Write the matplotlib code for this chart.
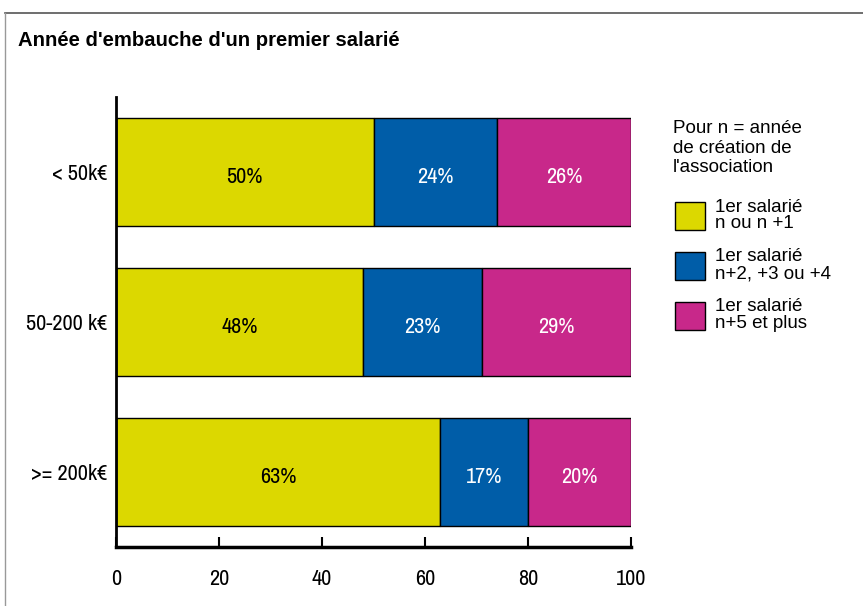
import matplotlib
matplotlib.use("Agg")
import matplotlib.pyplot as plt
from matplotlib.lines import Line2D
from matplotlib.patches import Patch

categories = ["< 50k€", "50-200 k€", ">= 200k€"]
series_labels = ["1er salarié\nn ou n +1", "1er salarié\nn+2, +3 ou +4", "1er salarié\nn+5 et plus"]
v_n1 = [50, 48, 63]
v_n24 = [24, 23, 17]
v_n5 = [26, 29, 20]
xticks = [0, 20, 40, 60, 80, 100]
colors = ["#DCD800", "#005DA8", "#C8288A"]
text_colors = ["black", "white", "white"]

NARROW = ["Archivo Narrow", "Liberation Sans", "DejaVu Sans"]
plt.rcParams["font.family"] = ["Liberation Sans", "DejaVu Sans"]

fig = plt.figure(figsize=(8.63, 6.06), dpi=100)
ax = fig.add_axes([116/863, 59/606, (631-116)/863, (547-97)/606])

ypos = list(range(len(categories)))
left = [0]*len(categories)
for vals, col, tc, lab in zip([v_n1, v_n24, v_n5], colors, text_colors, series_labels):
    ax.barh(ypos, vals, left=left, height=0.72, color=col, edgecolor="black", linewidth=1.0, label=lab)
    for y, v, l in zip(ypos, vals, left):
        ax.text(l + v/2, y + 0.035, f"{v}%", ha="center", va="center", color=tc, fontsize=16, family=NARROW)
    left = [a + b for a, b in zip(left, vals)]

ax.set_xlim(0, 100)
ax.set_ylim(2.5, -0.5)
ax.set_yticks(ypos)
ax.set_yticklabels(categories, family=NARROW, fontsize=16)
ax.set_xticks(xticks)
ax.set_xticklabels([str(t) for t in xticks], family=NARROW, fontsize=16)
ax.tick_params(axis="x", direction="in", length=7.2, width=1.5, pad=16)
ax.tick_params(axis="y", length=0, pad=6.5)
for s in ["top", "right"]:
    ax.spines[s].set_visible(False)
ax.spines["left"].set_linewidth(2)
ax.spines["bottom"].set_linewidth(2.5)

fig.text(673/863, 1-120/606, "Pour n = année\nde création de\nl'association", fontsize=13.5,
         ha="left", va="top", linespacing=1.2)
handles = [Patch(facecolor=c, edgecolor="black", linewidth=1.0) for c in colors]
leg = fig.legend(handles, series_labels, loc="upper left", bbox_to_anchor=(667/863, 1-191/606),
                 frameon=False, fontsize=13.5, handlelength=1.6, handleheight=1.9, handletextpad=0.55,
                 labelspacing=0.85, borderaxespad=0.0)
for t in leg.get_texts():
    t.set_linespacing(1.0)

fig.text(18/863, 1-41/606, "Année d'embauche d'un premier salarié", fontsize=14.6, fontweight="bold",
         ha="left", va="center")

fig.add_artist(Line2D([5/863, 1], [1-13/606, 1-13/606], color="#555555", linewidth=1.2, transform=fig.transFigure))
fig.add_artist(Line2D([5/863, 5/863], [0, 1-13/606], color="#999999", linewidth=1.0, transform=fig.transFigure))

fig.savefig("out.png", dpi=100)
